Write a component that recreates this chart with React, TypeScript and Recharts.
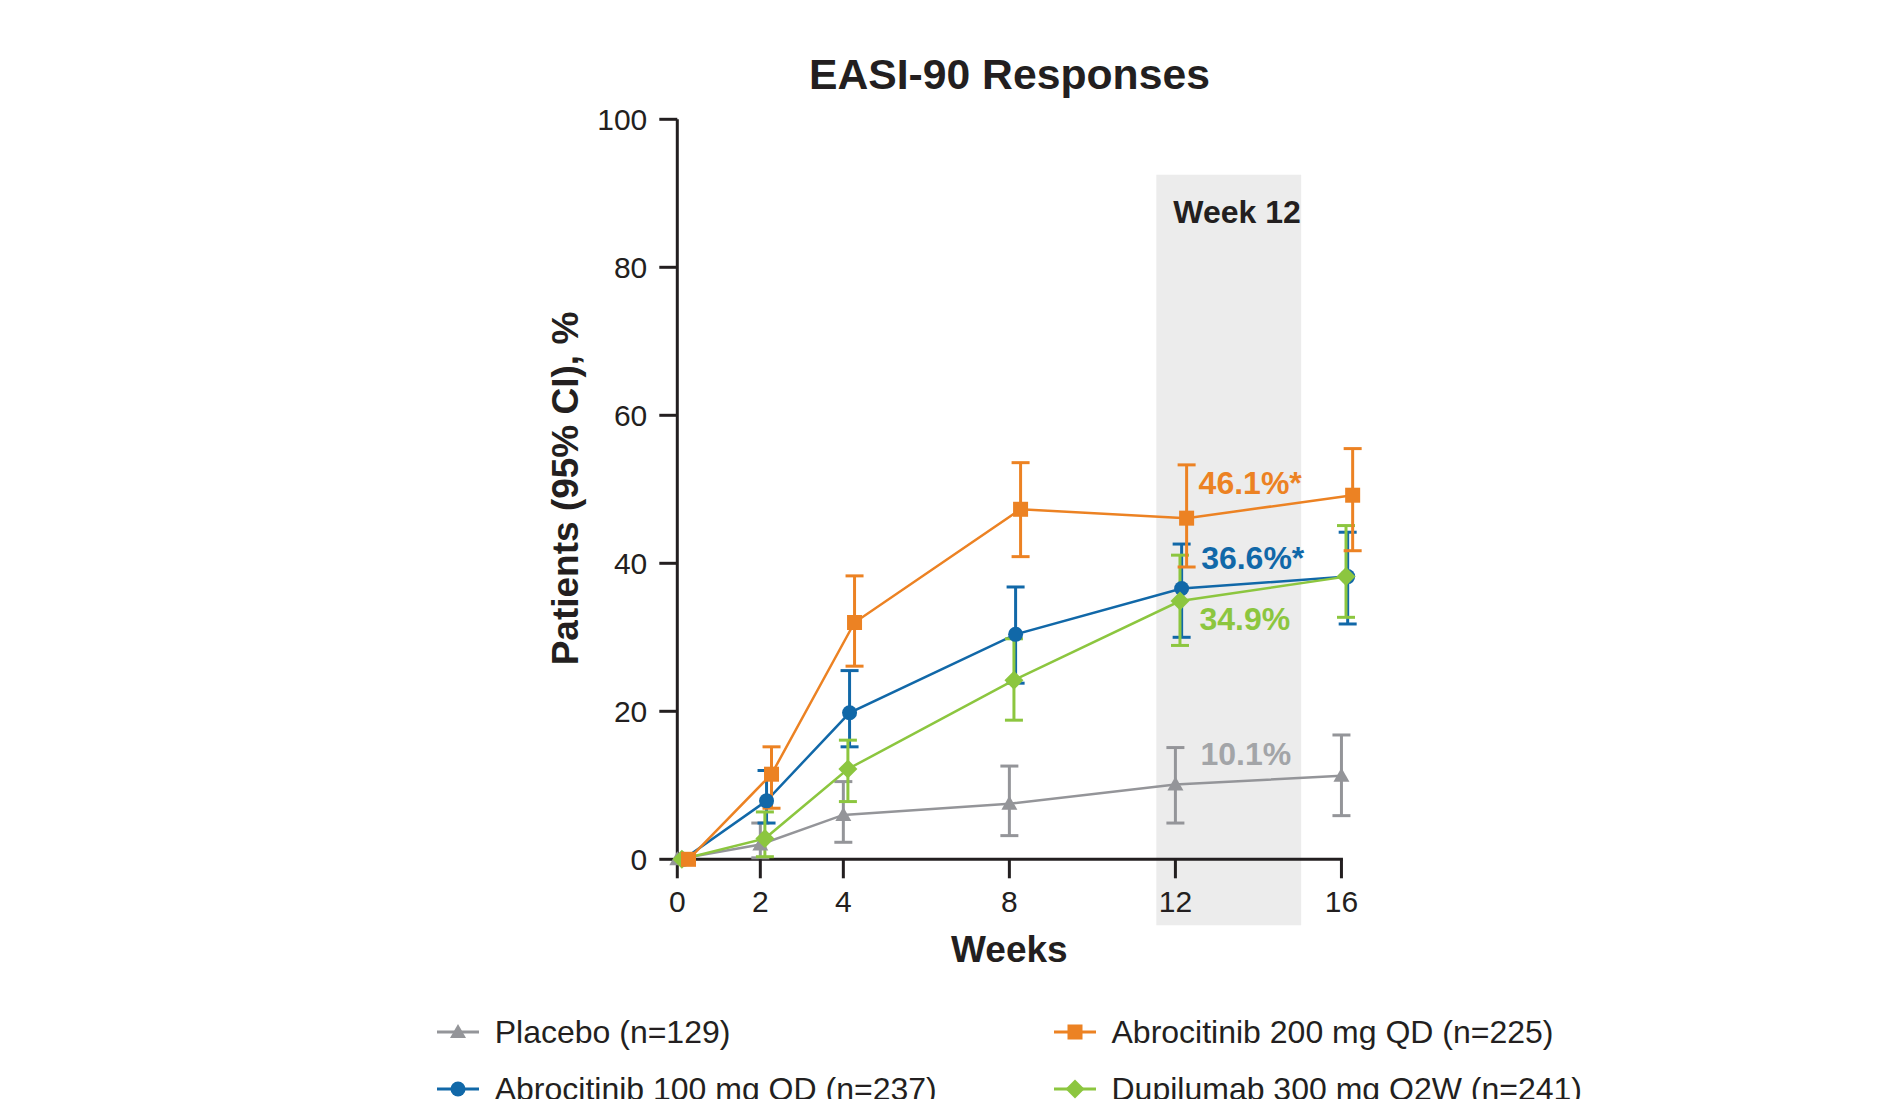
import React from 'react';
import {
  LineChart,
  Line,
  XAxis,
  YAxis,
  ErrorBar,
  ReferenceArea,
  ReferenceLine,
  LabelList,
  Legend,
} from 'recharts';

// ---------- data ----------
const weeks = [0, 2, 4, 8, 12, 16];
const xTicks = [0, 2, 4, 8, 12, 16];
const yTicks = [0, 20, 40, 60, 80, 100];

const placeboValues = [0, 2.0, 6.0, 7.5, 10.1, 11.3];
const placeboLow = [null, 0.2, 2.3, 3.2, 4.9, 5.9];
const placeboHigh = [null, 4.9, 10.5, 12.6, 15.1, 16.8];

const abro100Values = [0, 7.9, 19.8, 30.4, 36.6, 38.2];
const abro100Low = [null, 4.9, 15.2, 23.8, 30.0, 31.8];
const abro100High = [null, 12.0, 25.5, 36.8, 42.6, 44.2];

const dupiValues = [0, 2.8, 12.2, 24.2, 34.9, 38.2];
const dupiLow = [null, 0.35, 7.8, 18.8, 28.9, 32.7];
const dupiHigh = [null, 6.4, 16.1, 29.8, 41.1, 45.1];

const abro200Values = [0, 11.5, 32.0, 47.3, 46.1, 49.2];
const abro200Low = [null, 6.9, 26.1, 40.9, 39.5, 41.7];
const abro200High = [null, 15.2, 38.3, 53.6, 53.3, 55.5];

const week12Labels = ['10.1%', '36.6%*', '34.9%', '46.1%*'];
const seriesNames = [
  'Placebo (n=129)',
  'Abrocitinib 100 mg QD (n=237)',
  'Dupilumab 300 mg Q2W (n=241)',
  'Abrocitinib 200 mg QD (n=225)',
];

// highlighted week-12 window (data units)
const bandX = [11.54, 15.03];
const bandY = [-8.9, 92.5];

// ---------- style ----------
const FONT = "'Liberation Sans', Arial, Helvetica, sans-serif";
const INK = '#231f20';
const LABEL_INDEX = 4;

type Shape = 'triangle' | 'circle' | 'square' | 'diamond';

interface Series {
  key: string;
  name: string;
  color: string;
  labelColor: string;
  shape: Shape;
  dodge: number;
  values: number[];
  low: (number | null)[];
  high: (number | null)[];
  label: string;
  labelDx: number;
  labelDy: number;
  legendCol: number;
  legendRow: number;
}

const series: Series[] = [
  {
    key: 'placebo', name: seriesNames[0], color: '#949599', labelColor: '#a3a5a8', shape: 'triangle',
    dodge: 0, values: placeboValues, low: placeboLow, high: placeboHigh,
    label: week12Labels[0], labelDx: 25, labelDy: -19.5, legendCol: 0, legendRow: 0,
  },
  {
    key: 'abro100', name: seriesNames[1], color: '#1168a8', labelColor: '#1168a8', shape: 'circle',
    dodge: 0.15, values: abro100Values, low: abro100Low, high: abro100High,
    label: week12Labels[1], labelDx: 19.5, labelDy: -19, legendCol: 0, legendRow: 1,
  },
  {
    key: 'dupi', name: seriesNames[2], color: '#8cc63f', labelColor: '#8cc63f', shape: 'diamond',
    dodge: 0.11, values: dupiValues, low: dupiLow, high: dupiHigh,
    label: week12Labels[2], labelDx: 19.5, labelDy: 29, legendCol: 1, legendRow: 1,
  },
  {
    key: 'abro200', name: seriesNames[3], color: '#ec8223', labelColor: '#ec8223', shape: 'square',
    dodge: 0.27, values: abro200Values, low: abro200Low, high: abro200High,
    label: week12Labels[3], labelDx: 12, labelDy: -24, legendCol: 1, legendRow: 0,
  },
];

const legendX = [436.7, 1053.5];
const legendY = [1032.3, 1089.3];

function buildData(s: Series) {
  return weeks.map((w, i) => ({
    x: w + s.dodge,
    y: s.values[i],
    err:
      s.low[i] == null || s.high[i] == null
        ? null
        : [s.values[i] - (s.low[i] as number), (s.high[i] as number) - s.values[i]],
  }));
}

function Marker({ shape, cx, cy, color }: { shape: Shape; cx: number; cy: number; color: string }) {
  switch (shape) {
    case 'square':
      return <rect x={cx - 7.5} y={cy - 7.5} width={15} height={15} fill={color} />;
    case 'circle':
      return <circle cx={cx} cy={cy} r={7.5} fill={color} />;
    case 'diamond':
      return (
        <polygon
          points={`${cx},${cy - 9.5} ${cx + 9.5},${cy} ${cx},${cy + 9.5} ${cx - 9.5},${cy}`}
          fill={color}
        />
      );
    case 'triangle':
    default:
      return (
        <polygon points={`${cx},${cy - 8} ${cx + 8},${cy + 6} ${cx - 8},${cy + 6}`} fill={color} />
      );
  }
}

const makeDot = (s: Series) => (props: any) => {
  const { cx, cy, index } = props;
  if (cx == null || cy == null) return <g key={`d-${s.key}-${index}`} />;
  return (
    <g key={`d-${s.key}-${index}`}>
      <Marker shape={s.shape} cx={cx} cy={cy} color={s.color} />
    </g>
  );
};

const makeLabel = (s: Series) => (props: any) => {
  const { x, y, index } = props;
  if (index !== LABEL_INDEX || x == null || y == null) return null;
  return (
    <text
      x={x + s.labelDx}
      y={y + s.labelDy}
      fill={s.labelColor}
      fontFamily={FONT}
      fontWeight="bold"
      fontSize={32}
      textAnchor="start"
    >
      {s.label}
    </text>
  );
};

const WeekBandLabel = (props: any) => {
  const vb = props.viewBox || {};
  return (
    <text
      x={(vb.x ?? 0) + 17}
      y={(vb.y ?? 0) + 48.3}
      fill={INK}
      fontFamily={FONT}
      fontWeight="bold"
      fontSize={32}
    >
      Week 12
    </text>
  );
};

function LegendContent() {
  return (
    <div style={{ position: 'relative', width: 1892, height: 1099 }}>
      {series.map((s) => (
        <div
          key={s.key}
          style={{
            position: 'absolute',
            left: legendX[s.legendCol],
            top: legendY[s.legendRow] - 20,
            height: 40,
            display: 'flex',
            alignItems: 'center',
            whiteSpace: 'nowrap',
          }}
        >
          <svg width={42} height={40} style={{ display: 'block', flex: 'none' }}>
            <line x1={0} y1={20} x2={42} y2={20} stroke={s.color} strokeWidth={3} />
            <Marker shape={s.shape} cx={21} cy={20} color={s.color} />
          </svg>
          <span
            style={{
              marginLeft: 16,
              fontFamily: FONT,
              fontSize: 32,
              color: INK,
              lineHeight: 'normal',
            }}
          >
            {s.name}
          </span>
        </div>
      ))}
    </div>
  );
}

export default function App() {
  return (
    <div
      style={{
        position: 'absolute',
        left: 0,
        top: 0,
        width: 1892,
        height: 1099,
        overflow: 'hidden',
        background: '#ffffff',
      }}
    >
      <LineChart
        width={1892}
        height={1099}
        margin={{ top: 119.3, right: 538.1, bottom: 139.7, left: 577.3 }}
      >
        <ReferenceArea
          x1={bandX[0]}
          x2={bandX[1]}
          y1={bandY[0]}
          y2={bandY[1]}
          fill="#ececec"
          fillOpacity={1}
          stroke="none"
          ifOverflow="visible"
          label={<WeekBandLabel />}
        />
        <XAxis
          dataKey="x"
          type="number"
          domain={[0, 16.3]}
          ticks={xTicks}
          interval={0}
          axisLine={false}
          tickLine={{ stroke: INK, strokeWidth: 3 }}
          tickSize={19}
          tickMargin={12}
          tick={{ fill: INK, fontSize: 30, fontFamily: FONT }}
          height={100}
        />
        <YAxis
          type="number"
          domain={[0, 100]}
          ticks={yTicks}
          interval={0}
          axisLine={{ stroke: INK, strokeWidth: 3 }}
          tickLine={{ stroke: INK, strokeWidth: 3 }}
          tickSize={18}
          tickMargin={12}
          tick={{ fill: INK, fontSize: 30, fontFamily: FONT }}
          width={100}
        />
        <ReferenceLine
          segment={[
            { x: 0, y: 0 },
            { x: 16, y: 0 },
          ]}
          stroke={INK}
          strokeWidth={3}
          strokeLinecap="square"
          ifOverflow="visible"
        />
        {series.map((s) => (
          <Line
            key={s.key}
            name={s.name}
            data={buildData(s)}
            dataKey="y"
            type="linear"
            stroke={s.color}
            strokeWidth={2.5}
            dot={makeDot(s)}
            activeDot={false}
            isAnimationActive={false}
          >
            <ErrorBar dataKey="err" direction="y" width={9} strokeWidth={3} stroke={s.color} />
            <LabelList dataKey="y" content={makeLabel(s)} />
          </Line>
        ))}
        <Legend
          layout="horizontal"
          verticalAlign="middle"
          align="center"
          wrapperStyle={{ left: 0, top: 0, width: 1892, height: 1099, pointerEvents: 'none' }}
          content={() => <LegendContent />}
        />
        <text
          x={1009.4}
          y={89.3}
          textAnchor="middle"
          fill={INK}
          fontFamily={FONT}
          fontWeight="bold"
          fontSize={42.7}
        >
          EASI-90 Responses
        </text>
        <text
          x={1009.4}
          y={961.7}
          textAnchor="middle"
          fill={INK}
          fontFamily={FONT}
          fontWeight="bold"
          fontSize={37}
        >
          Weeks
        </text>
        <text
          transform="translate(578.3, 488.5) rotate(-90)"
          textAnchor="middle"
          fill={INK}
          fontFamily={FONT}
          fontWeight="bold"
          fontSize={37}
        >
          Patients (95% CI), %
        </text>
      </LineChart>
    </div>
  );
}
